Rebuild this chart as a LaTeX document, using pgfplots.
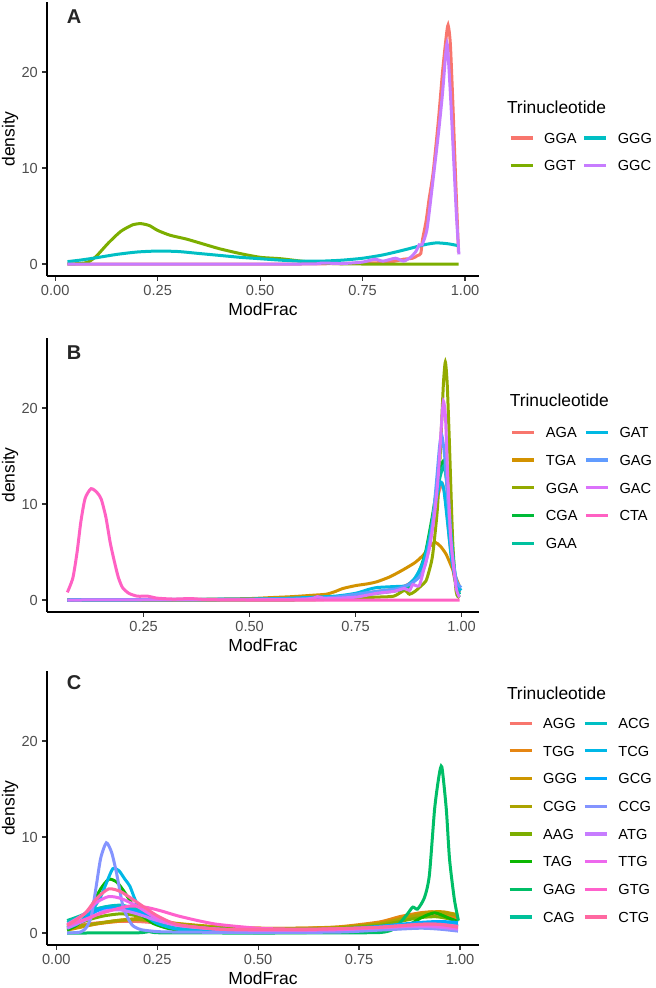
\documentclass[border=0pt]{standalone}
\usepackage{fontspec}
\setmainfont{Liberation Sans}
\usepackage{pgfplots}
\pgfplotsset{compat=1.18}
\definecolor{grey30}{HTML}{4D4D4D}
\definecolor{grey20}{HTML}{333333}
% 4-hue
\definecolor{a1}{HTML}{F8766D}\definecolor{a2}{HTML}{7CAE00}\definecolor{a3}{HTML}{00BFC4}\definecolor{a4}{HTML}{C77CFF}
% 9-hue
\definecolor{b1}{HTML}{F8766D}\definecolor{b2}{HTML}{D39200}\definecolor{b3}{HTML}{93AA00}\definecolor{b4}{HTML}{00BA38}\definecolor{b5}{HTML}{00C19F}\definecolor{b6}{HTML}{00B9E3}\definecolor{b7}{HTML}{619CFF}\definecolor{b8}{HTML}{DB72FB}\definecolor{b9}{HTML}{FF61C3}
% 16-hue
\definecolor{c1}{HTML}{F8766D}\definecolor{c2}{HTML}{E68613}\definecolor{c3}{HTML}{CD9600}\definecolor{c4}{HTML}{ABA300}\definecolor{c5}{HTML}{7CAE00}\definecolor{c6}{HTML}{0CB702}\definecolor{c7}{HTML}{00BE67}\definecolor{c8}{HTML}{00C19A}\definecolor{c9}{HTML}{00BFC4}\definecolor{c10}{HTML}{00B8E7}\definecolor{c11}{HTML}{00A9FF}\definecolor{c12}{HTML}{8494FF}\definecolor{c13}{HTML}{C77CFF}\definecolor{c14}{HTML}{ED68ED}\definecolor{c15}{HTML}{FF61CC}\definecolor{c16}{HTML}{FF68A1}
\pgfplotsset{
  panel/.style={
    scale only axis, width=216pt, height=137pt, anchor=south west,
    axis lines*=left, axis line style={-, black, line width=0.6pt},
    tick align=outside, major tick length=2.4pt,
    every tick/.style={color=grey20, line width=0.6pt},
    ymin=-1.25, ymax=27.3, ytick={0,10,20}, yticklabels={0,10,20},
    tick label style={font=\fontsize{7.3}{8.6}\selectfont, text=grey30},
    xticklabel style={inner sep=0pt, anchor=north, yshift=-2pt},
    yticklabel style={inner sep=0pt, anchor=east, xshift=-2pt},
    xlabel=ModFrac, ylabel=density,
    label style={font=\fontsize{8.75}{10}\selectfont},
    xlabel style={at={(axis description cs:0.5,-0.1204)}, anchor=center},
    ylabel style={at={(axis description cs:-0.0856,0.5)}, anchor=center},
    legend columns=2, legend cell align=left,
    legend style={draw=none, fill=none, inner sep=0pt, outer sep=0pt, anchor=north west,
      row sep=8.55pt, column sep=5pt,
      /tikz/every even column/.append style={column sep=3pt},
      nodes={inner sep=0pt, text height=5.3pt, text depth=0pt, font=\fontsize{7.3}{8.5}\selectfont}},
    legend image code/.code={\draw[#1, line width=1.6pt] (0pt,0pt) -- (11pt,0pt);},
    every axis plot/.append style={line width=1.5pt, smooth, tension=0.4},
  }
}
\begin{document}
\begin{tikzpicture}
\useasboundingbox (0,0) rectangle (328pt,-494pt);
% ---------------- Panel A
\begin{axis}[panel, at={(23.5pt,-138pt)}, xmin=-0.02, xmax=1.034,
  xtick={0,0.25,0.5,0.75,1}, xticklabels={0.00,0.25,0.50,0.75,1.00},
  legend style={at={(axis description cs:1.0694,0.523)}}]
\addlegendimage{a1}\addlegendentry{GGA}
\addlegendimage{a3}\addlegendentry{GGG}
\addlegendimage{a2}\addlegendentry{GGT}
\addlegendimage{a4}\addlegendentry{GGC}
\addplot[a1, forget plot] coordinates {(0.03,0)(0.2,0)(0.4,0)(0.6,0)(0.7,0.05)(0.75,0.1)(0.8,0.15)(0.83,0.3)(0.85,0.5)(0.872,0.6)(0.885,0.9)(0.892,1.1)(0.896,2.5)(0.905,4.5)(0.912,6.7)(0.922,9.5)(0.935,15)(0.945,20)(0.9535,23.5)(0.9585,24.9)(0.964,23)(0.97,17)(0.976,10)(0.981,4.5)(0.984,1.2)};
\addplot[a2, forget plot] coordinates {(0.03,0)(0.06,0.05)(0.08,0.2)(0.1,0.8)(0.13,2.2)(0.16,3.4)(0.19,4.1)(0.21,4.2)(0.23,4.0)(0.25,3.5)(0.28,3.0)(0.32,2.6)(0.36,2.1)(0.4,1.6)(0.45,1.1)(0.5,0.7)(0.55,0.55)(0.6,0.3)(0.65,0.1)(0.7,0.02)(0.75,0)(0.984,0)};
\addplot[a3, forget plot] coordinates {(0.03,0.25)(0.06,0.4)(0.1,0.65)(0.15,1.0)(0.2,1.25)(0.25,1.35)(0.3,1.3)(0.35,1.1)(0.4,0.9)(0.45,0.7)(0.5,0.55)(0.55,0.4)(0.6,0.3)(0.65,0.3)(0.7,0.4)(0.75,0.6)(0.8,0.95)(0.85,1.45)(0.9,2.0)(0.93,2.2)(0.96,2.1)(0.984,1.9)};
\addplot[a4, forget plot] coordinates {(0.03,0)(0.6,0)(0.65,0.1)(0.7,0.05)(0.75,0.2)(0.78,0.5)(0.8,0.3)(0.83,0.6)(0.85,0.3)(0.867,0.7)(0.88,1.3)(0.888,2.0)(0.895,2.0)(0.907,3.6)(0.92,8.1)(0.935,13.6)(0.945,17.8)(0.953,22)(0.957,22.8)(0.965,17.1)(0.973,10.2)(0.979,5)(0.985,1.0)};
\end{axis}
% ---------------- Panel B
\begin{axis}[panel, at={(23.5pt,-306pt)}, xmin=0.022, xmax=1.041,
  xtick={0.25,0.5,0.75,1}, xticklabels={0.25,0.50,0.75,1.00},
  legend style={at={(axis description cs:1.0734,0.675)}}]
\addlegendimage{b1}\addlegendentry{AGA}
\addlegendimage{b6}\addlegendentry{GAT}
\addlegendimage{b2}\addlegendentry{TGA}
\addlegendimage{b7}\addlegendentry{GAG}
\addlegendimage{b3}\addlegendentry{GGA}
\addlegendimage{b8}\addlegendentry{GAC}
\addlegendimage{b4}\addlegendentry{CGA}
\addlegendimage{b9}\addlegendentry{CTA}
\addlegendimage{b5}\addlegendentry{GAA}
\addplot[b1, forget plot] coordinates {(0.07,0)(0.6,0.05)(0.7,0.2)(0.75,0.5)(0.8,0.9)(0.85,1.2)(0.88,1.8)(0.9,2.8)(0.915,4.5)(0.93,7.5)(0.945,11)(0.955,12.1)(0.963,10)(0.972,6)(0.982,2.5)(0.995,0.8)};
\addplot[b2, forget plot] coordinates {(0.07,0)(0.3,0.02)(0.4,0.08)(0.5,0.15)(0.55,0.25)(0.6,0.35)(0.65,0.5)(0.68,0.6)(0.7,0.85)(0.72,1.2)(0.75,1.5)(0.78,1.7)(0.8,1.9)(0.83,2.4)(0.86,3.1)(0.89,3.9)(0.91,4.7)(0.925,5.6)(0.938,6.0)(0.95,5.6)(0.963,4.8)(0.975,3.6)(0.986,2.4)(0.995,1.4)};
\addplot[b3, forget plot] coordinates {(0.07,0)(0.6,0)(0.7,0.1)(0.8,0.3)(0.84,0.4)(0.865,1.0)(0.877,0.6)(0.89,0.9)(0.905,1.5)(0.916,2.0)(0.925,3.3)(0.932,4.8)(0.943,9.6)(0.951,16.6)(0.957,22.5)(0.9616,24.8)(0.966,22.5)(0.971,16.6)(0.979,6.1)(0.987,0.9)(0.995,0.25)};
\addplot[b4, forget plot] coordinates {(0.07,0)(0.6,0.05)(0.7,0.2)(0.75,0.4)(0.8,0.7)(0.85,1.0)(0.88,1.5)(0.9,3.0)(0.915,5)(0.93,8.5)(0.945,12.5)(0.957,14.5)(0.965,12.5)(0.972,8)(0.98,3.5)(0.99,0.8)(0.995,0.3)};
\addplot[b5, forget plot] coordinates {(0.07,0)(0.6,0.1)(0.7,0.25)(0.75,0.5)(0.8,0.8)(0.85,1.1)(0.88,1.6)(0.9,2.8)(0.915,4.8)(0.93,8)(0.945,12)(0.958,14)(0.967,11.5)(0.975,7)(0.985,2.5)(0.995,0.6)};
\addplot[b6, forget plot] coordinates {(0.07,0)(0.5,0.1)(0.6,0.2)(0.7,0.4)(0.75,0.7)(0.78,1.1)(0.8,1.3)(0.84,1.4)(0.87,1.5)(0.89,2.3)(0.91,4)(0.925,6.5)(0.94,10.5)(0.95,12.3)(0.958,11.5)(0.967,8)(0.977,4)(0.99,1.6)(0.999,1.0)};
\addplot[b7, forget plot] coordinates {(0.07,0)(0.6,0.1)(0.7,0.3)(0.75,0.6)(0.8,0.9)(0.85,1.2)(0.88,1.7)(0.9,2.4)(0.915,3.8)(0.93,7.5)(0.94,12)(0.948,16)(0.953,17.2)(0.96,15)(0.968,10)(0.977,5)(0.988,2)(0.999,1.3)};
\addplot[b8, forget plot] coordinates {(0.07,0)(0.6,0.05)(0.66,0.35)(0.68,0.15)(0.75,0.3)(0.8,0.7)(0.84,0.9)(0.865,1.2)(0.877,1.0)(0.885,1.6)(0.9,1.5)(0.912,3.4)(0.924,5.4)(0.936,8.9)(0.945,13)(0.952,18)(0.957,20.7)(0.962,19)(0.967,13.1)(0.975,6.1)(0.987,1.3)(0.995,0.3)};
\addplot[b9, forget plot] coordinates {(0.07,0.8)(0.083,2.3)(0.093,5)(0.102,8.2)(0.112,10.6)(0.126,11.6)(0.14,11.2)(0.15,10.5)(0.161,8.6)(0.171,6)(0.181,4)(0.19,2.4)(0.2,1.3)(0.215,0.7)(0.235,0.4)(0.26,0.4)(0.28,0.2)(0.32,0.1)(0.36,0.15)(0.4,0.05)(0.5,0)(0.995,0)};
\end{axis}
% ---------------- Panel C
\begin{axis}[panel, at={(23.5pt,-472.5pt)}, xmin=-0.023, xmax=1.047,
  xtick={0,0.25,0.5,0.75,1}, xticklabels={0.00,0.25,0.50,0.75,1.00},
  legend style={at={(axis description cs:1.0671,0.829)}}]
\addlegendimage{c1}\addlegendentry{AGG}
\addlegendimage{c9}\addlegendentry{ACG}
\addlegendimage{c2}\addlegendentry{TGG}
\addlegendimage{c10}\addlegendentry{TCG}
\addlegendimage{c3}\addlegendentry{GGG}
\addlegendimage{c11}\addlegendentry{GCG}
\addlegendimage{c4}\addlegendentry{CGG}
\addlegendimage{c12}\addlegendentry{CCG}
\addlegendimage{c5}\addlegendentry{AAG}
\addlegendimage{c13}\addlegendentry{ATG}
\addlegendimage{c6}\addlegendentry{TAG}
\addlegendimage{c14}\addlegendentry{TTG}
\addlegendimage{c7}\addlegendentry{GAG}
\addlegendimage{c15}\addlegendentry{GTG}
\addlegendimage{c8}\addlegendentry{CAG}
\addlegendimage{c16}\addlegendentry{CTG}
\addplot[c1, forget plot] coordinates {(0.027,0.6)(0.06,0.85)(0.1,1.05)(0.15,1.2)(0.2,1.2)(0.25,1.05)(0.3,0.85)(0.4,0.55)(0.5,0.45)(0.6,0.45)(0.7,0.55)(0.8,0.9)(0.85,1.3)(0.9,1.75)(0.94,1.9)(0.97,1.65)(0.995,1.3)};
\addplot[c2, forget plot] coordinates {(0.027,0.4)(0.06,0.65)(0.1,0.95)(0.15,1.2)(0.2,1.4)(0.25,1.25)(0.3,0.95)(0.4,0.6)(0.5,0.5)(0.6,0.5)(0.7,0.65)(0.8,1.15)(0.85,1.7)(0.9,2.1)(0.93,2.2)(0.96,2.0)(0.995,1.6)};
\addplot[c3, forget plot] coordinates {(0.027,0.3)(0.06,0.6)(0.1,0.95)(0.15,1.3)(0.2,1.5)(0.25,1.35)(0.3,1.0)(0.4,0.65)(0.5,0.5)(0.6,0.5)(0.7,0.6)(0.8,1.0)(0.85,1.5)(0.9,2.0)(0.93,2.2)(0.96,2.2)(0.995,1.9)};
\addplot[c4, forget plot] coordinates {(0.027,0.5)(0.06,0.75)(0.1,1.0)(0.15,1.3)(0.2,1.4)(0.25,1.2)(0.3,0.9)(0.4,0.6)(0.5,0.45)(0.6,0.45)(0.7,0.55)(0.8,0.95)(0.85,1.4)(0.9,1.9)(0.93,2.1)(0.96,2.1)(0.995,1.8)};
\addplot[c5, forget plot] coordinates {(0.027,0.7)(0.06,1.1)(0.09,1.5)(0.12,1.8)(0.16,2.0)(0.2,1.8)(0.25,1.3)(0.3,0.9)(0.4,0.5)(0.5,0.4)(0.6,0.4)(0.7,0.5)(0.8,0.8)(0.85,1.2)(0.9,1.6)(0.94,1.7)(0.97,1.5)(0.995,1.2)};
\addplot[c6, forget plot] coordinates {(0.027,0.3)(0.05,0.8)(0.07,1.6)(0.09,3.0)(0.11,4.6)(0.13,5.6)(0.15,5.3)(0.17,4.2)(0.19,2.9)(0.21,1.9)(0.24,1.0)(0.28,0.45)(0.33,0.2)(0.4,0.1)(0.5,0.05)(0.6,0.05)(0.7,0.08)(0.78,0.15)(0.82,0.3)(0.85,0.5)(0.88,1.0)(0.9,1.5)(0.92,1.9)(0.937,2.1)(0.95,1.95)(0.97,1.6)(0.995,1.2)};
\addplot[c7, forget plot] coordinates {(0.027,0)(0.2,0.02)(0.23,0.15)(0.26,0.02)(0.5,0)(0.7,0.02)(0.8,0.05)(0.83,0.3)(0.85,1.0)(0.87,2.0)(0.883,2.7)(0.895,2.5)(0.912,3.7)(0.924,6.0)(0.937,12.9)(0.948,16.4)(0.955,17.3)(0.966,12.9)(0.974,7.7)(0.986,3.5)(0.996,1.3)};
\addplot[c8, forget plot] coordinates {(0.027,1.3)(0.06,1.8)(0.09,2.4)(0.12,2.7)(0.15,2.8)(0.18,2.6)(0.21,2.0)(0.25,1.3)(0.3,0.7)(0.4,0.3)(0.5,0.2)(0.6,0.2)(0.7,0.3)(0.8,0.5)(0.85,0.7)(0.9,0.9)(0.95,0.9)(0.995,0.7)};
\addplot[c9, forget plot] coordinates {(0.027,1.1)(0.07,1.9)(0.1,2.5)(0.13,2.8)(0.16,2.9)(0.19,2.6)(0.22,2.0)(0.26,1.2)(0.3,0.7)(0.4,0.3)(0.5,0.2)(0.6,0.2)(0.7,0.3)(0.8,0.5)(0.9,0.9)(0.95,1.0)(0.995,0.8)};
\addplot[c10, forget plot] coordinates {(0.027,0.5)(0.05,0.9)(0.07,1.5)(0.09,2.4)(0.11,3.8)(0.125,5.3)(0.14,6.7)(0.155,6.5)(0.17,5.6)(0.182,4.9)(0.195,3.5)(0.207,2.5)(0.225,1.7)(0.25,1.0)(0.3,0.4)(0.4,0.15)(0.5,0.1)(0.6,0.1)(0.7,0.2)(0.8,0.4)(0.88,0.8)(0.93,1.0)(0.97,0.9)(0.995,0.8)};
\addplot[c11, forget plot] coordinates {(0.027,0.6)(0.07,1.5)(0.1,2.3)(0.13,2.6)(0.16,2.6)(0.2,2.2)(0.25,1.4)(0.3,0.8)(0.4,0.4)(0.5,0.3)(0.6,0.3)(0.7,0.4)(0.8,0.7)(0.9,1.1)(0.95,1.2)(0.995,1.1)};
\addplot[c12, forget plot] coordinates {(0.027,0)(0.06,0.1)(0.075,0.6)(0.087,1.8)(0.099,4.9)(0.11,7.8)(0.124,9.4)(0.137,8.4)(0.149,6.3)(0.165,2.8)(0.178,1.5)(0.19,0.75)(0.21,0.35)(0.25,0.15)(0.3,0.1)(0.5,0.05)(0.7,0.1)(0.8,0.3)(0.9,0.5)(0.95,0.4)(0.995,0.2)};
\addplot[c13, forget plot] coordinates {(0.027,0.5)(0.08,1.5)(0.12,2.3)(0.16,2.4)(0.2,2.0)(0.25,1.3)(0.3,0.8)(0.4,0.4)(0.5,0.3)(0.6,0.3)(0.7,0.35)(0.8,0.55)(0.9,0.7)(0.95,0.6)(0.995,0.4)};
\addplot[c14, forget plot] coordinates {(0.027,0.9)(0.07,2.0)(0.1,3.2)(0.13,3.8)(0.16,3.6)(0.2,2.8)(0.25,1.5)(0.3,0.8)(0.4,0.4)(0.5,0.3)(0.6,0.3)(0.7,0.35)(0.8,0.55)(0.9,0.8)(0.95,0.7)(0.995,0.5)};
\addplot[c15, forget plot] coordinates {(0.027,0.8)(0.07,1.4)(0.1,1.9)(0.14,2.4)(0.18,2.8)(0.22,2.7)(0.26,2.3)(0.3,1.8)(0.35,1.3)(0.4,0.9)(0.5,0.5)(0.6,0.4)(0.7,0.45)(0.8,0.6)(0.9,0.9)(0.95,0.9)(0.995,0.7)};
\addplot[c16, forget plot] coordinates {(0.027,0.8)(0.07,2.0)(0.1,3.6)(0.13,4.6)(0.16,4.3)(0.2,3.2)(0.25,1.8)(0.3,0.9)(0.4,0.4)(0.5,0.35)(0.6,0.35)(0.7,0.45)(0.8,0.6)(0.9,0.9)(0.95,0.9)(0.995,0.6)};
\end{axis}
% panel letters and legend titles
\node[font=\fontsize{10}{12}\selectfont\bfseries, text=black!85] at (37pt,-8.5pt) {A};
\node[font=\fontsize{10}{12}\selectfont\bfseries, text=black!85] at (37pt,-176.5pt) {B};
\node[font=\fontsize{10}{12}\selectfont\bfseries, text=black!85] at (37pt,-341.5pt) {C};
\node[font=\fontsize{8.7}{10}\selectfont, anchor=base west, inner sep=0pt] at (253.3pt,-56.7pt) {Trinucleotide};
\node[font=\fontsize{8.7}{10}\selectfont, anchor=base west, inner sep=0pt] at (254.7pt,-203.3pt) {Trinucleotide};
\node[font=\fontsize{8.7}{10}\selectfont, anchor=base west, inner sep=0pt] at (253.3pt,-349.7pt) {Trinucleotide};
\end{tikzpicture}
\end{document}
